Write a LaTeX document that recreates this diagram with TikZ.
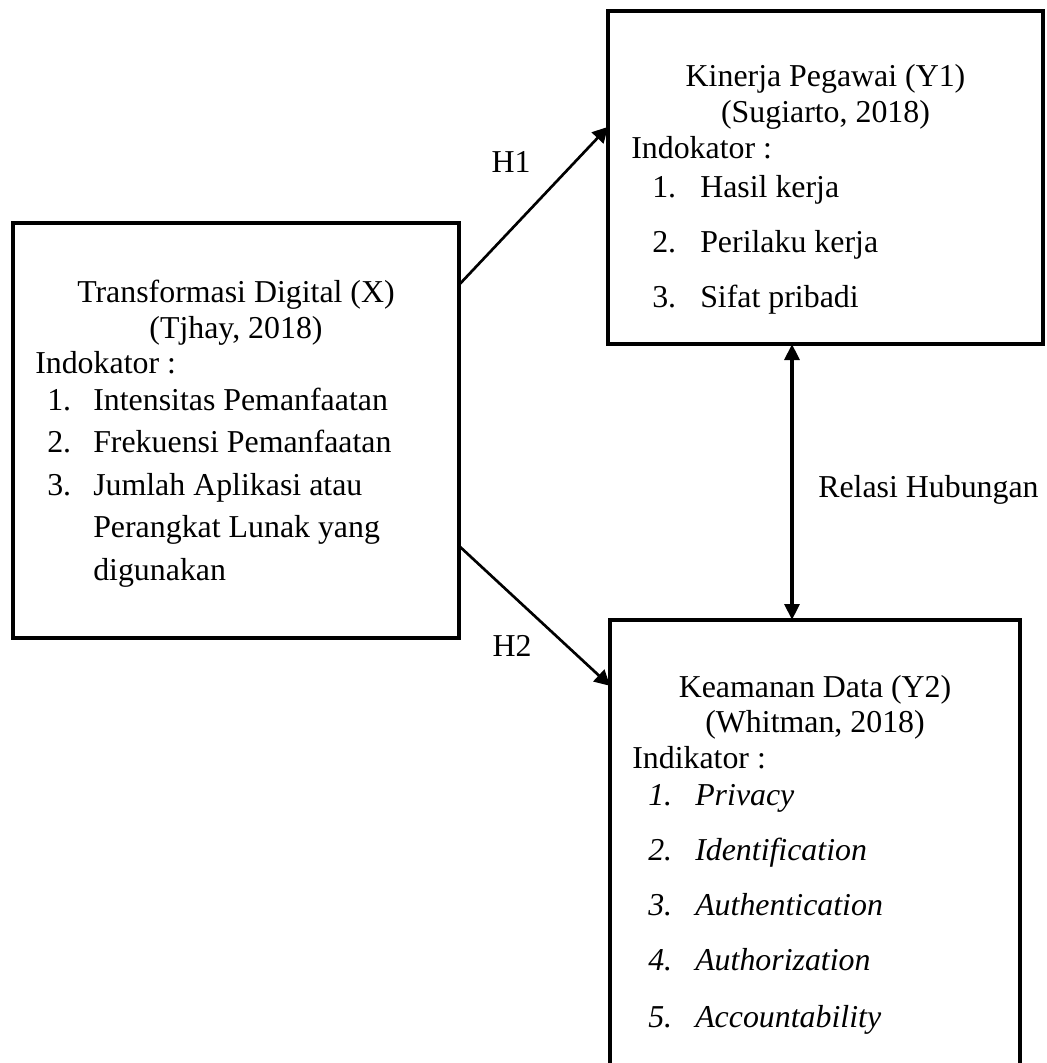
\documentclass[tikz,border=0pt]{standalone}
\usepackage{fontspec}
\setmainfont{Liberation Serif}
\usetikzlibrary{
  arrows.meta, % for the Triangle arrow tips
  calc, % to pick points along the box edges
}
\tikzset{
  box/.style={ % style for the variable boxes
    rectangle,draw,line width=3pt, % drawn as a heavy rectangle
    inner sep=0pt,outer sep=0pt, % border sits exactly on the given size
  },
  txt/.style={ % style for every line of text
    inner sep=0pt,
    font=\fontsize{23.9}{27}\selectfont,
  },
  title/.style={txt,anchor=base}, % centred heading lines
  line/.style={txt,anchor=base west}, % left-aligned lines
  conn/.style={ % style for the hypothesis arrows
    -{Triangle[length=11.5pt,width=12pt]},
    line width=2pt,
  },
  biconn/.style={ % style for the two-way relation
    {Triangle[length=12pt,width=11pt]}-{Triangle[length=12pt,width=11pt]},
    line width=3pt,
  },
}

\begin{document}
\begin{tikzpicture}[x=0.75pt,y=-0.75pt]
  \clip (0,0) rectangle (1046,1063);

  % the three boxes
  \node[box,minimum width=334.5pt,minimum height=311.25pt] (trans) at (236,430.5) {};
  \node[box,minimum width=326.25pt,minimum height=249.75pt] (kinerja) at (825.5,177.5) {};
  \node[box,minimum width=307.5pt,minimum height=352.5pt] (keamanan) at (815,855) {};

  % transformasi digital
  \node[title] (x-title) at (236,302) {Transformasi Digital (X)};
  \node[title] (x-ref) at (236,338) {(Tjhay, 2018)};
  \node[line] (x-ind) at (35,373) {Indokator :};
  \node[line] (x-n1) at (47,410) {1.};
  \node[line] (x-i1) at (93,410) {Intensitas Pemanfaatan};
  \node[line] (x-n2) at (47,452) {2.};
  \node[line] (x-i2) at (93,452) {Frekuensi Pemanfaatan};
  \node[line] (x-n3) at (47,495) {3.};
  \node[line] (x-i3) at (93,495) {Jumlah Aplikasi atau};
  \node[line] (x-i3b) at (93,537) {Perangkat Lunak yang};
  \node[line] (x-i3c) at (93,580) {digunakan};

  % kinerja pegawai
  \node[title] (y1-title) at (825.5,87) {Kinerja Pegawai (Y1)};
  \node[title] (y1-ref) at (825.5,122) {(Sugiarto, 2018)};
  \node[line] (y1-ind) at (631,158) {Indokator :};
  \node[line] (y1-n1) at (652,197) {1.};
  \node[line] (y1-i1) at (700,197) {Hasil kerja};
  \node[line] (y1-n2) at (652,252) {2.};
  \node[line] (y1-i2) at (700,252) {Perilaku kerja};
  \node[line] (y1-n3) at (652,307) {3.};
  \node[line] (y1-i3) at (700,307) {Sifat pribadi};

  % keamanan data
  \node[title] (y2-title) at (815,697) {Keamanan Data (Y2)};
  \node[title] (y2-ref) at (815,732) {(Whitman, 2018)};
  \node[line] (y2-ind) at (632,768) {Indikator :};
  \node[line] (y2-n1) at (648,805) {\itshape 1.};
  \node[line] (y2-i1) at (695,805) {\itshape Privacy};
  \node[line] (y2-n2) at (648,860) {\itshape 2.};
  \node[line] (y2-i2) at (695,860) {\itshape Identification};
  \node[line] (y2-n3) at (648,915) {\itshape 3.};
  \node[line] (y2-i3) at (695,915) {\itshape Authentication};
  \node[line] (y2-n4) at (648,970) {\itshape 4.};
  \node[line] (y2-i4) at (695,970) {\itshape Authorization};
  \node[line] (y2-n5) at (648,1027) {\itshape 5.};
  \node[line] (y2-i5) at (695,1027) {\itshape Accountability};

  % arrow labels
  \node[title] (h1) at (511,172) {H1};
  \node[title] (h2) at (512,656) {H2};
  \node[line] (rel) at (818,497) {Relasi Hubungan};

  % connections
  \draw[conn] ($(trans.north east)!0.149!(trans.south east)$)
    -- ($(kinerja.north west)!0.348!(kinerja.south west)$);
  \draw[conn] ($(trans.north east)!0.778!(trans.south east)$)
    -- ($(keamanan.north west)!0.14!(keamanan.south west)$);
  \coordinate (relTop) at ($(kinerja.south west)!0.423!(kinerja.south east)$);
  \draw[biconn] (relTop) -- (relTop |- keamanan.north);
\end{tikzpicture}
\end{document}
